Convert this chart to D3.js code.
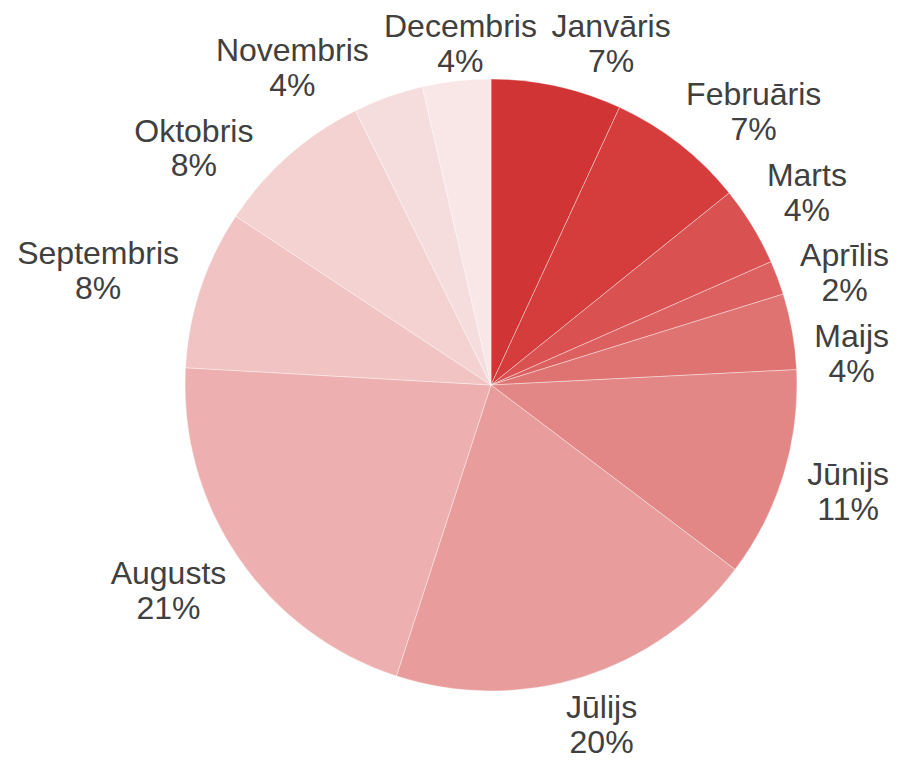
<!DOCTYPE html>
<html lang="lv">
<head>
<meta charset="utf-8">
<title>Pie chart - mēneši</title>
<script src="https://cdn.jsdelivr.net/npm/d3@7"></script>
<style>
  body { margin: 0; background: #fff; }
  svg { display: block; }
  .label text { font-family: "Liberation Sans", Arial, sans-serif; font-size: 32px; fill: #404040; }
</style>
</head>
<body>
<svg id="chart"></svg>
<script>
// data
var months = ["Janvāris", "Februāris", "Marts", "Aprīlis", "Maijs", "Jūnijs",
              "Jūlijs", "Augusts", "Septembris", "Oktobris", "Novembris", "Decembris"];
var shares = [6.9, 7.3, 4.2, 1.8, 4.0, 11.1, 19.7, 20.9, 8.4, 8.4, 3.7, 3.6];
var colors = ["#d13434", "#d53c3c", "#d95150", "#dc6060", "#df7371", "#e38686",
              "#e89c9c", "#edafaf", "#f1c3c3", "#f4d2d2", "#f6dddd", "#f9e6e6"];

var W = 897, H = 761;
var cx = 491, cy = 385, radius = 306;
var lineH = 35, boxH = 70, pad = 27;

var svg = d3.select("#chart").attr("width", W).attr("height", H);
var g = svg.append("g").attr("transform", "translate(" + cx + "," + cy + ")");

var data = months.map(function(m, i) { return {name: m, value: shares[i], color: colors[i]}; });
var total = d3.sum(shares);

var pie = d3.pie().sort(null).value(function(d) { return d.value; });
var arc = d3.arc().innerRadius(0).outerRadius(radius);
var arcs = pie(data);

g.selectAll("path.slice")
  .data(arcs)
  .enter().append("path")
    .attr("class", "slice")
    .attr("d", arc)
    .attr("fill", function(d) { return d.data.color; })
    .attr("stroke", "rgba(255,255,255,0.5)")
    .attr("stroke-width", 0.75);

// labels: name + rounded percent, placed outside the pie
var lab = g.selectAll("g.label")
  .data(arcs)
  .enter().append("g")
    .attr("class", "label");

var txt = lab.append("text").attr("text-anchor", "middle");
txt.append("tspan").attr("class", "l1").attr("x", 0).attr("dy", "0.35em")
  .text(function(d) { return d.data.name; });
txt.append("tspan").attr("class", "l2").attr("x", 0).attr("dy", lineH)
  .text(function(d) { return Math.round(d.data.value / total * 100) + "%"; });

// measure widths, start at the slice mid angle
var items = [];
lab.each(function(d) {
  var w = 0;
  d3.select(this).selectAll("tspan").each(function() {
    w = Math.max(w, this.getComputedTextLength());
  });
  items.push({node: this, w: w, h: boxH, theta: (d.startAngle + d.endAngle) / 2});
});

function place(it) {
  var s = Math.sin(it.theta), c = Math.cos(it.theta);
  var x = radius * s + s * (pad + it.w / 2);
  var y = -radius * c - c * (pad - 5 + it.h / 2);
  // keep inside the picture
  var top = y - it.h / 2 + cy;
  if (top < 8) y += 8 - top;
  var bot = y + it.h / 2 + cy;
  if (bot > H - 2) y -= bot - (H - 2);
  var right = x + it.w / 2 + cx;
  if (right > W - 8) x -= right - (W - 8);
  var left = x - it.w / 2 + cx;
  if (left < 8) x += 8 - left;
  it.x = x; it.y = y;
}

function overlap(a, b) {
  return Math.abs(a.x - b.x) < (a.w + b.w) / 2 + 14 &&
         Math.abs(a.y - b.y) < (a.h + b.h) / 2 + 10;
}

items.forEach(place);
var step = 0.2 * Math.PI / 180;
for (var it = 0; it < 400; it++) {
  var moved = false;
  for (var i = 0; i < items.length; i++) {
    var a = items[i], b = items[(i + 1) % items.length];
    if (overlap(a, b)) {
      a.theta -= step; b.theta += step;
      place(a); place(b);
      moved = true;
    }
  }
  if (!moved) break;
}

items.forEach(function(it) {
  d3.select(it.node).attr("transform", "translate(" + it.x + "," + (it.y - lineH / 2) + ")");
});
</script>
</body>
</html>
